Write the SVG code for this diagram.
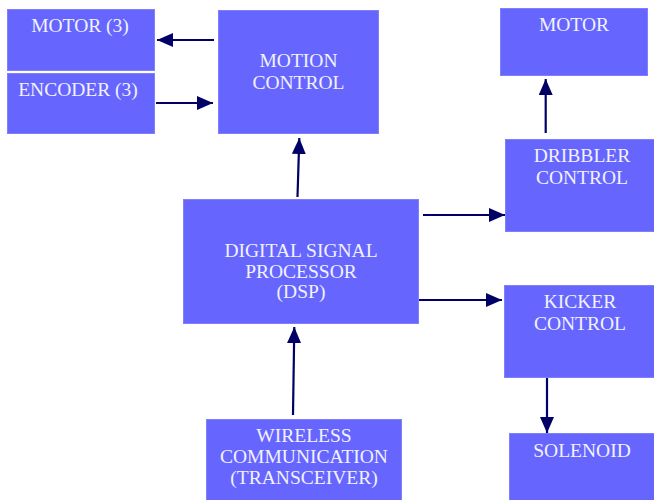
<svg xmlns="http://www.w3.org/2000/svg" width="654" height="500" viewBox="0 0 654 500">
<style>
.box{fill:#6666ff;stroke:#8080ff;stroke-width:1}
.lbl{font-family:'Liberation Serif','Times New Roman',serif;font-size:19.5px;fill:#f2f2ff;text-anchor:middle}
.conn{stroke:#000066;stroke-width:2.2;fill:none;marker-end:url(#ah)}
</style>
<defs>
<marker id="ah" markerUnits="userSpaceOnUse" viewBox="0 0 16 14" refX="16" refY="7" markerWidth="16" markerHeight="14" orient="auto">
<path d="M0,0 L16,7 L0,14 Z" fill="#000066"/>
</marker>
</defs>
<rect width="654" height="500" fill="#ffffff"/>
<g id="motor3"><rect class="box" x="7.5" y="9.5" width="147" height="61"/><text class="lbl" x="80" y="32">MOTOR (3)</text></g>
<g id="encoder3"><rect class="box" x="7.5" y="73.5" width="147" height="60"/><text class="lbl" x="78" y="96">ENCODER (3)</text></g>
<g id="motion"><rect class="box" x="218.5" y="10.5" width="160" height="123"/><text class="lbl" x="298.5" y="67">MOTION</text><text class="lbl" x="298.5" y="89">CONTROL</text></g>
<g id="motor"><rect class="box" x="500.5" y="8.5" width="147" height="67"/><text class="lbl" x="574" y="31">MOTOR</text></g>
<g id="dribbler"><rect class="box" x="505.5" y="139.5" width="149" height="92"/><text class="lbl" x="582" y="162">DRIBBLER</text><text class="lbl" x="582" y="184">CONTROL</text></g>
<g id="dsp"><rect class="box" x="183.5" y="199.5" width="235" height="124"/><text class="lbl" x="301" y="257">DIGITAL SIGNAL</text><text class="lbl" x="301" y="278">PROCESSOR</text><text class="lbl" x="301" y="298">(DSP)</text></g>
<g id="kicker"><rect class="box" x="504.5" y="285.5" width="150" height="92"/><text class="lbl" x="580" y="308">KICKER</text><text class="lbl" x="580" y="330">CONTROL</text></g>
<g id="solenoid"><rect class="box" x="509.5" y="433.5" width="145" height="67"/><text class="lbl" x="582" y="457">SOLENOID</text></g>
<g id="wireless"><rect class="box" x="206.5" y="419.5" width="195" height="81"/><text class="lbl" x="304" y="442">WIRELESS</text><text class="lbl" x="304" y="463">COMMUNICATION</text><text class="lbl" x="304" y="484">(TRANSCEIVER)</text></g>
<g id="connectors">
<line class="conn" x1="214" y1="40" x2="157" y2="40"/>
<line class="conn" x1="156" y1="103" x2="213" y2="103"/>
<line class="conn" x1="297.5" y1="197" x2="299.3" y2="138"/>
<line class="conn" x1="545.7" y1="133" x2="545.7" y2="79"/>
<line class="conn" x1="423" y1="215" x2="505" y2="215"/>
<line class="conn" x1="419" y1="300" x2="502" y2="300"/>
<line class="conn" x1="547" y1="378" x2="547" y2="433"/>
<line class="conn" x1="293" y1="415" x2="294.3" y2="327"/>
</g>
</svg>
